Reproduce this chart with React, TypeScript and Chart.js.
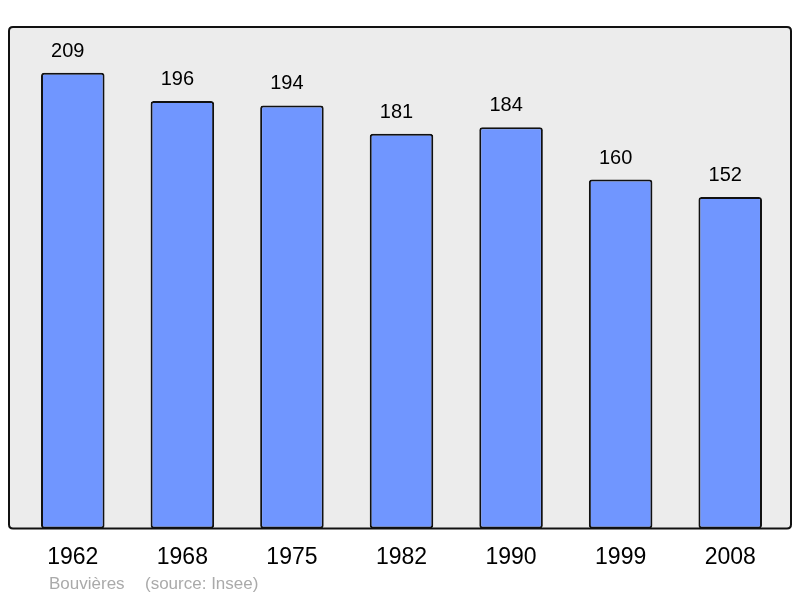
import React, { useEffect, useRef } from "react";
import { Chart, registerables } from "chart.js";

Chart.register(...registerables);

const years = ["1962", "1968", "1975", "1982", "1990", "1999", "2008"];
const population = [209, 196, 194, 181, 184, 160, 152];
const commune = "Bouvières";
const source = "(source: Insee)";

const FONT = "'Liberation Sans', Arial, sans-serif";

function roundRect(ctx: CanvasRenderingContext2D, x: number, y: number, w: number, h: number, r: number) {
  ctx.beginPath();
  ctx.moveTo(x + r, y);
  ctx.lineTo(x + w - r, y);
  ctx.quadraticCurveTo(x + w, y, x + w, y + r);
  ctx.lineTo(x + w, y + h - r);
  ctx.quadraticCurveTo(x + w, y + h, x + w - r, y + h);
  ctx.lineTo(x + r, y + h);
  ctx.quadraticCurveTo(x, y + h, x, y + h - r);
  ctx.lineTo(x, y + r);
  ctx.quadraticCurveTo(x, y, x + r, y);
  ctx.closePath();
}

const framePlugin = {
  id: "frame",
  beforeDraw(chart: any) {
    const { ctx, chartArea } = chart;
    ctx.save();
    ctx.fillStyle = "#ffffff";
    ctx.fillRect(0, 0, chart.width, chart.height);
    roundRect(ctx, 9, chartArea.top, 782, chartArea.bottom - chartArea.top, 4);
    ctx.fillStyle = "#ececec";
    ctx.fill();
    ctx.restore();
  },
  afterDatasetsDraw(chart: any) {
    const { ctx, chartArea } = chart;
    ctx.save();
    roundRect(ctx, 9, chartArea.top, 782, chartArea.bottom - chartArea.top, 4);
    ctx.lineWidth = 2;
    ctx.strokeStyle = "#111111";
    ctx.stroke();

    const meta = chart.getDatasetMeta(0);
    ctx.fillStyle = "#000000";
    ctx.font = `20px ${FONT}`;
    ctx.textAlign = "center";
    ctx.textBaseline = "middle";
    meta.data.forEach((bar: any, i: number) => {
      ctx.fillText(String(population[i]), bar.x - 5, bar.y - 21.5);
    });

    ctx.fillStyle = "#aaaaaa";
    ctx.font = `17px ${FONT}`;
    ctx.textAlign = "left";
    ctx.fillText(commune, 49, 584);
    ctx.fillText(source, 145, 584);
    ctx.restore();
  },
};

export default function App() {
  const ref = useRef<HTMLCanvasElement | null>(null);
  useEffect(() => {
    if (!ref.current) return;
    const chart = new Chart(ref.current, {
      type: "bar",
      data: {
        labels: years,
        datasets: [
          {
            data: population,
            backgroundColor: "#7096ff",
            borderColor: "#111111",
            borderWidth: 2,
            borderRadius: 3,
            borderSkipped: false,
            categoryPercentage: 1,
            barPercentage: 0.58,
          },
        ],
      },
      options: {
        animation: false,
        responsive: false,
        layout: { padding: { top: 27, left: 18, right: 15, bottom: 12 } },
        plugins: { legend: { display: false }, tooltip: { enabled: false } },
        scales: {
          x: {
            grid: { display: false, drawTicks: false, tickLength: 0 },
            border: { display: false },
            ticks: {
              color: "#000000",
              font: { size: 23, family: FONT },
              padding: 15,
              maxRotation: 0,
            },
          },
          y: {
            display: false,
            min: 0,
            max: 230,
          },
        },
      },
      plugins: [framePlugin],
    });
    return () => chart.destroy();
  }, []);
  return (
    <div style={{ position: "absolute", left: 0, top: 0, width: 800, height: 598 }}>
      <canvas ref={ref} width={800} height={598} />
    </div>
  );
}
